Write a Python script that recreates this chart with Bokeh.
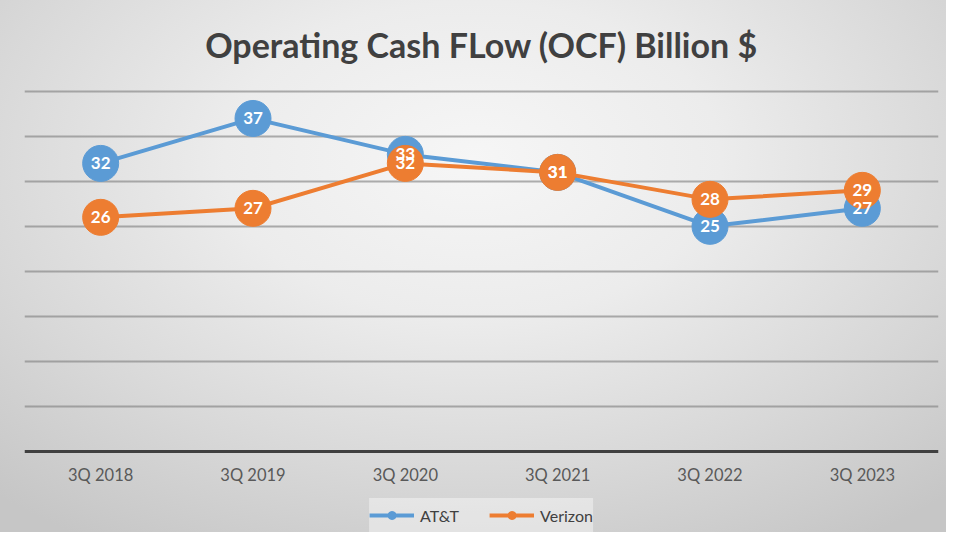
from bokeh.plotting import figure
from bokeh.models import (ColumnDataSource, LabelSet, Legend, LegendItem, FixedTicker,
                          Range1d, FactorRange)
from bokeh.core.properties import value
from bokeh.embed import file_html
from bokeh.resources import INLINE

quarters = ["3Q 2018", "3Q 2019", "3Q 2020", "3Q 2021", "3Q 2022", "3Q 2023"]
att = [32, 37, 33, 31, 25, 27]
verizon = [26, 27, 32, 31, 28, 29]
grid_levels = [5, 10, 15, 20, 25, 30, 35, 40]

BLUE = "#5B9BD5"
ORANGE = "#ED7D31"
FONT = "Lato"

p = figure(width=946, height=532, output_backend="svg", toolbar_location=None,
           x_range=FactorRange(factors=quarters, range_padding=0),
           y_range=Range1d(-9.06, 40.22),
           min_border_left=24, min_border_right=8, min_border_top=86,
           min_border_bottom=0,
           title="Operating Cash FLow (OCF) Billion $")

p.styles = {"background": "radial-gradient(ellipse 75% 85% at 50% 30%, #f6f6f6 0%, #ececec 35%, #d8d8d8 70%, #c6c6c6 100%)"}
p.background_fill_alpha = 0
p.border_fill_alpha = 0
p.outline_line_color = None

p.title.text_font = FONT
p.title.text_font_style = "bold"
p.title.text_font_size = "34px"
p.title.text_color = "#404040"
p.title.align = "center"
p.title.vertical_align = "top"
p.title.standoff = 46

p.yaxis.visible = False
p.ygrid.ticker = FixedTicker(ticks=grid_levels)
p.ygrid.grid_line_color = "#7f7f7f"
p.ygrid.grid_line_alpha = 0.62
p.ygrid.grid_line_width = 2
p.xgrid.visible = False

p.xaxis.fixed_location = 0
p.xaxis.axis_line_color = "#404040"
p.xaxis.axis_line_width = 3
p.xaxis.major_tick_line_color = None
p.xaxis.minor_tick_line_color = None
p.xaxis.major_label_text_font = FONT
p.xaxis.major_label_text_font_size = "16.5px"
p.xaxis.major_label_text_color = "#595959"
p.xaxis.major_label_standoff = 8

src_a = ColumnDataSource(dict(x=quarters, y=att, t=[str(v) for v in att]))
src_v = ColumnDataSource(dict(x=quarters, y=verizon, t=[str(v) for v in verizon]))

la = p.line("x", "y", source=src_a, line_color=BLUE, line_width=4)
ma = p.scatter("x", "y", source=src_a, size=36, fill_color=BLUE, line_color=BLUE)
lv = p.line("x", "y", source=src_v, line_color=ORANGE, line_width=4)
mv = p.scatter("x", "y", source=src_v, size=36, fill_color=ORANGE, line_color=ORANGE)

for src in (src_a, src_v):
    p.add_layout(LabelSet(x="x", y="y", text="t", source=src, text_align="center",
                          text_baseline="middle", text_color="white",
                          text_font=value(FONT), text_font_style="bold",
                          text_font_size="17px"))

legend = Legend(items=[LegendItem(label="AT&T", renderers=[la, ma]),
                       LegendItem(label="Verizon", renderers=[lv, mv])],
                orientation="horizontal", location="bottom_center",
                label_text_font=FONT, label_text_font_size="16px",
                label_text_color="#404040", label_width=50, label_height=34,
                glyph_width=45, glyph_height=20, label_standoff=6, spacing=19,
                padding=18, margin=0,
                background_fill_color="white", background_fill_alpha=0.4,
                border_line_color=None)
p.add_layout(legend, "center")

open("out.html", "w").write(file_html(p, INLINE))
